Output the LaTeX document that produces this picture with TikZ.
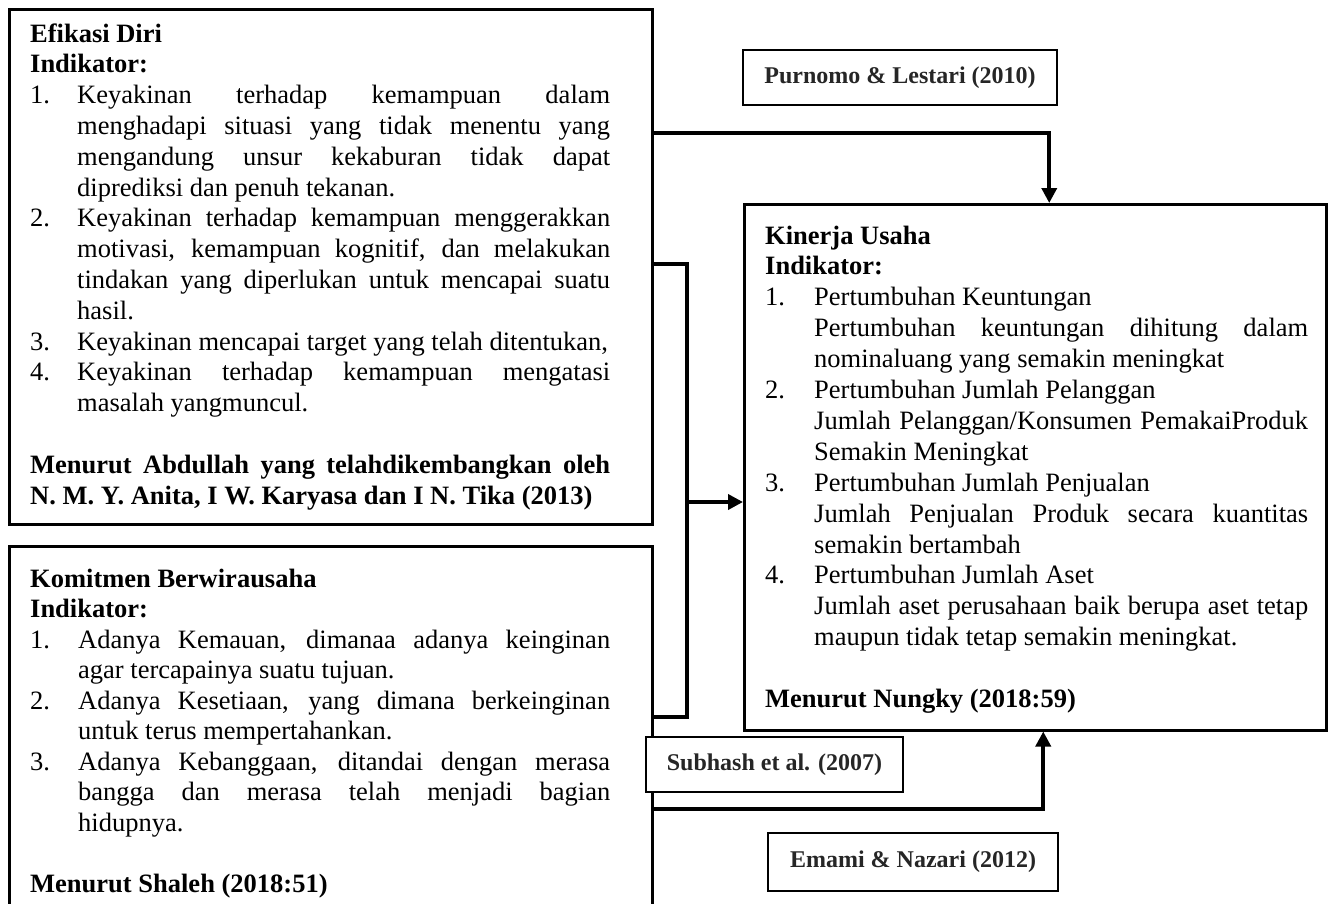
\documentclass[tikz,border=0pt]{standalone}
\usepackage{fontspec}
\setmainfont{Liberation Serif}
\usetikzlibrary{arrows.meta}
\newcommand{\jl}[3]{\hbox to\hsize{\hbox to #1{#2\hss}\makebox[\dimexpr\hsize-#1\relax][s]{#3}}}
\newcommand{\rl}[3]{\hbox to\hsize{\hbox to #1{#2\hss}#3\hss}}
\newcommand{\bl}[1]{\hbox to\hsize{\bfseries #1\hss}}
\newcommand{\bj}[1]{\hbox to\hsize{\makebox[\hsize][s]{\bfseries #1}}}
\tikzset{
  frame/.style={draw, line width=2.5pt, inner sep=0pt, anchor=north west},
  lbl/.style={draw, line width=2.5pt, fill=white, inner sep=0pt,
    font=\fontsize{24}{28}\selectfont\bfseries, text=black!85},
  conn/.style={line width=3.6pt},
  arr/.style={conn, -{Triangle[width=15pt,length=15pt]}},
  txt/.style={anchor=base west, inner sep=0pt}
}
\begin{document}
\begin{tikzpicture}[x=1pt, y=-1pt]
\useasboundingbox (0,0) rectangle (1332,903);
\clip (0,0) rectangle (1332,903);
% main boxes
\node[frame, minimum width=643pt, minimum height=515pt] (boxA) at (8,8) {};
\node[frame, minimum width=643pt, minimum height=400pt] (boxB) at (8,545) {};
\node[frame, minimum width=582pt, minimum height=526pt] (kin) at (743,203) {};
% texts
\node[txt] (tA) at (30,42) {\fontsize{26.5}{30.8}\selectfont\vtop{\hsize=580pt\baselineskip=30.8pt\lineskiplimit=-1000pt
\bl{Efikasi Diri}
\bl{Indikator:}
\jl{47pt}{1.}{Keyakinan terhadap kemampuan dalam}
\jl{47pt}{}{menghadapi situasi yang tidak menentu yang}
\jl{47pt}{}{mengandung unsur kekaburan tidak dapat}
\rl{47pt}{}{diprediksi dan penuh tekanan.}
\jl{47pt}{2.}{Keyakinan terhadap kemampuan menggerakkan}
\jl{47pt}{}{motivasi, kemampuan kognitif, dan melakukan}
\jl{47pt}{}{tindakan yang diperlukan untuk mencapai suatu}
\rl{47pt}{}{hasil.}
\rl{47pt}{3.}{Keyakinan mencapai target yang telah ditentukan,}
\jl{47pt}{4.}{Keyakinan terhadap kemampuan mengatasi}
\rl{47pt}{}{masalah yangmuncul.}
\hbox{}
\bj{Menurut Abdullah yang telahdikembangkan oleh}
\bl{N. M. Y. Anita, I W. Karyasa dan I N. Tika (2013)}
}};
\node[txt] (tB) at (30,587) {\fontsize{26.5}{30.5}\selectfont\vtop{\hsize=580pt\baselineskip=30.5pt\lineskiplimit=-1000pt
\bl{Komitmen Berwirausaha}
\bl{Indikator:}
\jl{48pt}{1.}{Adanya Kemauan, dimanaa adanya keinginan}
\rl{48pt}{}{agar tercapainya suatu tujuan.}
\jl{48pt}{2.}{Adanya Kesetiaan, yang dimana berkeinginan}
\rl{48pt}{}{untuk terus mempertahankan.}
\jl{48pt}{3.}{Adanya Kebanggaan, ditandai dengan merasa}
\jl{48pt}{}{bangga dan merasa telah menjadi bagian}
\rl{48pt}{}{hidupnya.}
\hbox{}
\bl{Menurut Shaleh (2018:51)}
}};
\node[txt] (tK) at (765,244) {\fontsize{26.5}{30.9}\selectfont\vtop{\hsize=543pt\baselineskip=30.9pt\lineskiplimit=-1000pt
\bl{Kinerja Usaha}
\bl{Indikator:}
\rl{49pt}{1.}{Pertumbuhan Keuntungan}
\jl{49pt}{}{Pertumbuhan keuntungan dihitung dalam}
\rl{49pt}{}{nominaluang yang semakin meningkat}
\rl{49pt}{2.}{Pertumbuhan Jumlah Pelanggan}
\jl{49pt}{}{Jumlah Pelanggan/Konsumen PemakaiProduk}
\rl{49pt}{}{Semakin Meningkat}
\rl{49pt}{3.}{Pertumbuhan Jumlah Penjualan}
\jl{49pt}{}{Jumlah Penjualan Produk secara kuantitas}
\rl{49pt}{}{semakin bertambah}
\rl{49pt}{4.}{Pertumbuhan Jumlah Aset}
\jl{49pt}{}{Jumlah aset perusahaan baik berupa aset tetap}
\rl{49pt}{}{maupun tidak tetap semakin meningkat.}
\hbox{}
\bl{Menurut Nungky (2018:59)}
}};
% connectors
\coordinate (jt) at (687,264);
\coordinate (jb) at (687,717);
\coordinate (jm) at (687,502);
\draw[arr] ([yshift=-125pt]boxA.north east) -| ([xshift=14pt]kin.north);
\draw[conn] ([yshift=-256pt]boxA.north east) -- (jt) -- (jb) -- (jb -| boxB.east);
\draw[arr] (jm) -- (jm -| kin.west);
\draw[arr] ([yshift=-264pt]boxB.north east) -| ([xshift=8pt]kin.south);
% label boxes
\node[lbl, minimum width=314pt, minimum height=55pt] (purn) at (900,77.5) {Purnomo \& Lestari (2010)};
\node[lbl, minimum width=257pt, minimum height=55pt] (subh) at (774.5,764.5) {Subhash et al. (2007)};
\node[lbl, minimum width=290pt, minimum height=58pt] (emami) at (913,862) {Emami \& Nazari (2012)};
\end{tikzpicture}
\end{document}
